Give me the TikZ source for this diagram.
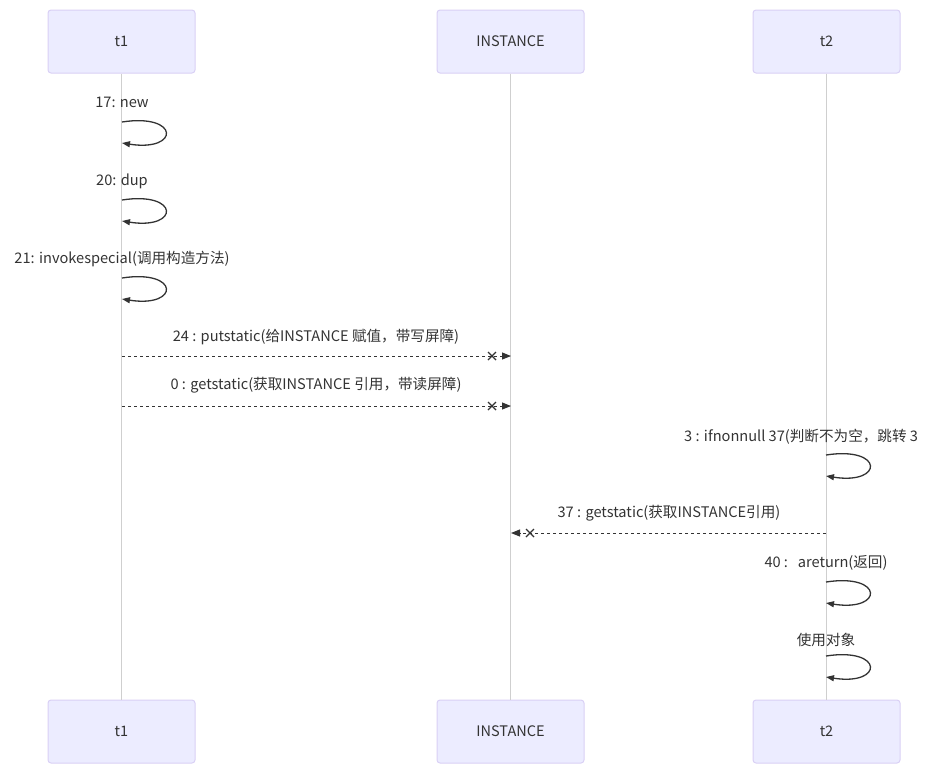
\documentclass[tikz,border=0pt]{standalone}
\usepackage{fontspec}
\setmainfont{Noto Sans CJK SC}
\usetikzlibrary{arrows.meta,calc}
\definecolor{actfill}{HTML}{ECECFF}
\definecolor{actdraw}{HTML}{D9D0F5}
\definecolor{lifecol}{HTML}{CFCFCF}
\definecolor{ink}{HTML}{333333}
\tikzset{
  actor/.style={draw=actdraw, fill=actfill, line width=1pt, rounded corners=3pt,
    minimum width=147pt, minimum height=63pt, inner sep=0pt, font=\fontsize{14.5}{17}\selectfont, text=ink},
  lifeline/.style={draw=lifecol, line width=1.3pt},
  msg/.style={font=\fontsize{14.6}{17}\selectfont, text=ink, inner sep=0pt},
  selfloop/.style={draw=ink, line width=1.3pt, -{Triangle[length=8pt,width=6pt]}},
  dmsg/.style={draw=ink, line width=1pt, dash pattern=on 3pt off 3pt, -{Triangle[length=9pt,width=7pt]}},
  crossmark/.style={draw=ink, line width=1.2pt},
}
\newcommand{\selfloopat}[2]{%
  \draw[selfloop] (#1) .. controls +(58,-9) and +(58,9) .. (#2);}
\newcommand{\crossat}[1]{%
  \draw[crossmark] ($(#1)+(-4,-4)$) -- ($(#1)+(4,4)$) ($(#1)+(-4,4)$) -- ($(#1)+(4,-4)$);}
\begin{document}
\begin{tikzpicture}[x=1pt,y=-1pt]
\useasboundingbox (0,0) rectangle (933,769);
% actors
\node[actor] (t1top) at (121.5,41.5) {t1};
\node[actor] (insttop) at (510.5,41.5) {INSTANCE};
\node[actor] (t2top) at (826.5,41.5) {t2};
\node[actor] (t1bot) at (121.5,731.5) {t1};
\node[actor] (instbot) at (510.5,731.5) {INSTANCE};
\node[actor] (t2bot) at (826.5,731.5) {t2};
% lifelines
\draw[lifeline] (t1top.south) -- (t1bot.north);
\draw[lifeline] (insttop.south) -- (instbot.north);
\draw[lifeline] (t2top.south) -- (t2bot.north);
% self loops on t1
\node[msg] (l17) at (122,102) {17: new};
\coordinate (a1) at (122,122); \coordinate (b1) at (122,143);
\selfloopat{a1}{b1}
\node[msg] (l20) at (122,181) {20: dup};
\coordinate (a2) at (122,200); \coordinate (b2) at (122,221);
\selfloopat{a2}{b2}
\node[msg] (l21) at (122,259) {21: invokespecial(调用构造方法)};
\coordinate (a3) at (122,278); \coordinate (b3) at (122,299);
\selfloopat{a3}{b3}
% t1 -> INSTANCE
\node[msg] (l24) at (316,337) {24 : putstatic(给INSTANCE 赋值，带写屏障)};
\coordinate (s24) at (122,356); \coordinate (e24) at (511,356); \coordinate (x24) at (492,356);
\draw[dmsg] (s24) -- (e24);
\crossat{x24}
\node[msg] (l0) at (316,385) {0 : getstatic(获取INSTANCE 引用，带读屏障)};
\coordinate (s0) at (122,406); \coordinate (e0) at (511,406); \coordinate (x0) at (492,406);
\draw[dmsg] (s0) -- (e0);
\crossat{x0}
% t2
\node[msg, anchor=west] (l3) at (684,437) {3 : ifnonnull 37(判断不为空，跳转 3};
\coordinate (a4) at (826,455); \coordinate (b4) at (826,476);
\selfloopat{a4}{b4}
\node[msg] (l37) at (669,513) {37 : getstatic(获取INSTANCE引用)};
\coordinate (s37) at (826,533); \coordinate (e37) at (511,533); \coordinate (x37) at (530,533);
\draw[dmsg] (s37) -- (e37);
\crossat{x37}
\node[msg] (l40) at (826,563) {40 :\ \ \ areturn(返回)};
\coordinate (a5) at (826,582); \coordinate (b5) at (826,603);
\selfloopat{a5}{b5}
\node[msg] (luse) at (826,640) {使用对象};
\coordinate (a6) at (826,656); \coordinate (b6) at (826,677);
\selfloopat{a6}{b6}
\end{tikzpicture}
\end{document}
